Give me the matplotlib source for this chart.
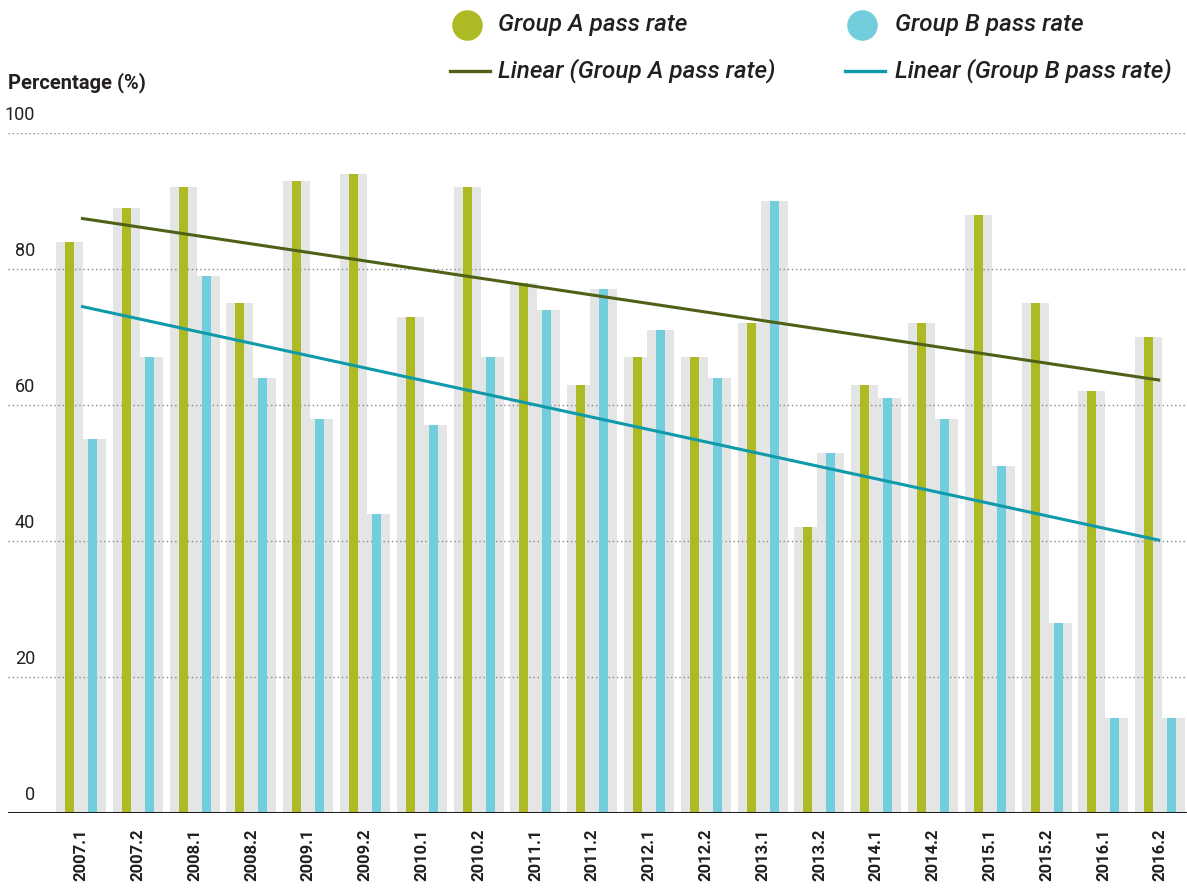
import numpy as np
import matplotlib
matplotlib.use("Agg")
from matplotlib import pyplot as plt
from matplotlib.lines import Line2D

periods = ['2007.1', '2007.2', '2008.1', '2008.2', '2009.1', '2009.2', '2010.1', '2010.2',
           '2011.1', '2011.2', '2012.1', '2012.2', '2013.1', '2013.2', '2014.1', '2014.2',
           '2015.1', '2015.2', '2016.1', '2016.2']
group_a = [84, 89, 92, 75, 93, 94, 73, 92, 78, 63, 67, 67, 72, 42, 63, 72, 88, 75, 62, 70]
group_b = [55, 67, 79, 64, 58, 44, 57, 67, 74, 77, 71, 64, 90, 53, 61, 58, 51, 28, 14, 14]
yticks = [0, 20, 40, 60, 80, 100]

green = '#aeba24'
blue = '#72cddc'
shade = '#e4e6e5'
trend_a = '#4e6116'
trend_b = '#0e9aaa'
ink = '#231f20'

plt.rcParams['font.family'] = ['Roboto', 'DejaVu Sans']

W, H = 1187, 888
fig = plt.figure(figsize=(W / 100, H / 100), dpi=100)
ax = fig.add_axes([8 / W, (H - 813) / H, (W - 8) / W, 680 / H])

x = np.arange(len(periods))
off = 0.2025
# grey backing bars, then the coloured ones
ax.bar(x - off, group_a, width=0.475, color=shade, zorder=1)
ax.bar(x + off, group_b, width=0.475, color=shade, zorder=1)
ax.bar(x - off, group_a, width=0.158, color=green, zorder=3)
ax.bar(x + off, group_b, width=0.158, color=blue, zorder=3)

for v in yticks[1:]:
    ax.axhline(v, color='#8a8a8a', lw=1, ls=(0, (1, 2)), zorder=2)
ax.axhline(0, color=ink, lw=2.2, zorder=5)

# linear trend lines
ka, ba = np.polyfit(x, group_a, 1)
kb, bb = np.polyfit(x, group_b, 1)
ax.plot(x, ka * x + ba, color=trend_a, lw=2.2, zorder=4, solid_capstyle='butt')
ax.plot(x, kb * x + bb, color=trend_b, lw=2.2, zorder=4, solid_capstyle='butt')

ax.set_xlim((8 - 81) / 56.8, (W - 81) / 56.8)
ax.set_ylim(0, 100)
for s in ax.spines.values():
    s.set_visible(False)
ax.set_yticks([])
ax.set_xticks(x)
ax.set_xticklabels(periods, rotation=90, fontsize=12, fontweight='bold', color=ink)
ax.tick_params(axis='x', length=0, pad=11)

for v in yticks:
    ax.annotate(str(v), xy=(0, v), xycoords=('axes fraction', 'data'),
                xytext=(27, 18), textcoords='offset pixels',
                ha='right', va='center', fontsize=13, color=ink)

fig.text(8 / W, 1 - 83 / H, 'Percentage (%)', fontsize=14.5, fontweight='semibold',
         color=ink, ha='left', va='center')

# legend
leg_font = dict(fontsize=17.5, fontstyle='italic', fontweight='medium', color=ink,
                ha='left', va='center')
items = [
    (467, 25, 'o', green, 'Group A pass rate', 498),
    (862, 25, 'o', blue, 'Group B pass rate', 895),
    (470, 71, '-', trend_a, 'Linear (Group A pass rate)', 498),
    (865, 71, '-', trend_b, 'Linear (Group B pass rate)', 895),
]
for cx, cy, kind, col, label, tx in items:
    yy = 1 - cy / H
    if kind == 'o':
        fig.add_artist(Line2D([cx / W], [yy], marker='o', markersize=22, color=col,
                              markeredgewidth=0, transform=fig.transFigure))
    else:
        fig.add_artist(Line2D([(cx - 20) / W, (cx + 20) / W], [yy, yy], color=col, lw=2.4,
                              transform=fig.transFigure))
    fig.text(tx / W, yy, label, **leg_font)

fig.savefig('out.png', dpi=100)
